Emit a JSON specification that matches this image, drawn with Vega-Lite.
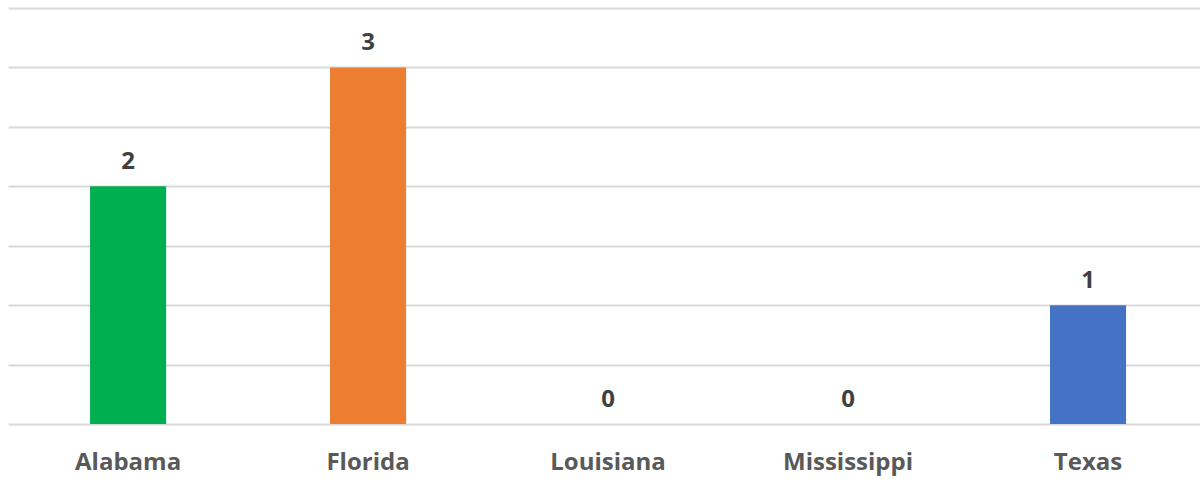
{
  "$schema": "https://vega.github.io/schema/vega-lite/v6.json",
  "autosize": "none",
  "width": 1192,
  "height": 416,
  "padding": {"left": 8, "top": 8, "right": 0, "bottom": 55},
  "background": "white",
  "config": {"view": {"stroke": null}, "font": "Open Sans"},
  "data": {"values": [
    {"state": "Alabama", "count": 2, "color": "#00b050"},
    {"state": "Florida", "count": 3, "color": "#ed7d31"},
    {"state": "Louisiana", "count": 0, "color": "#4472c4"},
    {"state": "Mississippi", "count": 0, "color": "#4472c4"},
    {"state": "Texas", "count": 1, "color": "#4472c4"}
  ]},
  "encoding": {
    "x": {
      "field": "state", "type": "nominal", "sort": null,
      "scale": {"paddingInner": 0.683, "paddingOuter": 0.325, "align": 0.526},
      "axis": {"title": null, "labelAngle": 0, "labelFontSize": 24, "labelFontWeight": "bold", "labelColor": "#595959", "labelPadding": 26, "ticks": false, "domain": false, "grid": false, "labelFont": "Open Sans"}
    },
    "y": {
      "field": "count", "type": "quantitative",
      "scale": {"domain": [0, 3.5], "nice": false},
      "axis": {"title": null, "labels": false, "ticks": false, "domain": false, "values": [0, 0.5, 1, 1.5, 2, 2.5, 3, 3.5], "gridColor": "#d9d9d9", "gridWidth": 2}
    }
  },
  "layer": [
    {"mark": {"type": "bar"}, "encoding": {"color": {"field": "color", "type": "nominal", "scale": null}}},
    {"mark": {"type": "text", "baseline": "alphabetic", "dy": -17, "fontSize": 24, "fontWeight": "bold", "color": "#404040", "font": "Open Sans"},
     "encoding": {"text": {"field": "count", "type": "quantitative"}}}
  ]
}
